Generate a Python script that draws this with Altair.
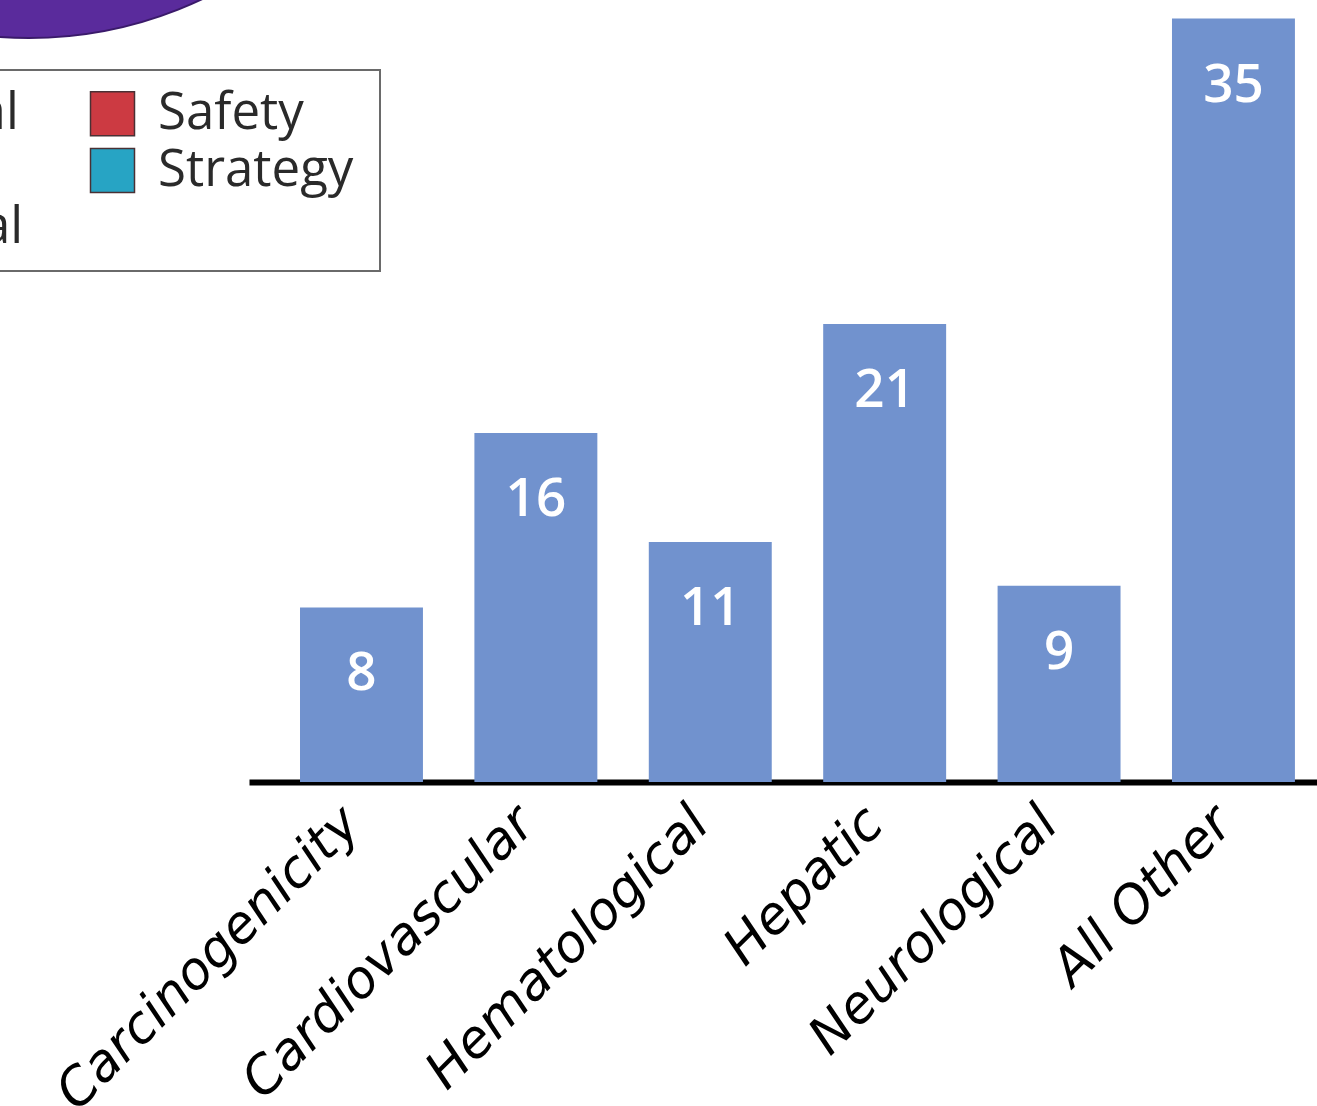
import altair as alt
import pandas as pd

# ---- data ----
categories = ["Carcinogenicity", "Cardiovascular", "Hematological", "Hepatic", "Neurological", "All Other"]
counts = [8, 16, 11, 21, 9, 35]

legend_labels = ["Chemical", "CMC", "Technical", "Safety", "Strategy"]
legend_colors = ["#6a3d9a", "#8c8c8c", "#e08a2a", "#cc3a42", "#27a4c4"]

pie_values = [1]

bars_df = pd.DataFrame({"category": categories, "count": counts})
legend_df = pd.DataFrame({"group": legend_labels})
pie_df = pd.DataFrame({"v": pie_values})

x_enc = alt.X(
    "category:N",
    sort=categories,
    scale=alt.Scale(paddingInner=0.295, paddingOuter=0.2095, align=0.698),
    axis=alt.Axis(
        title=None,
        domainColor="#000000",
        domainWidth=6,
        ticks=False,
        labelAngle=-45,
        labelAlign="right",
        labelBaseline="middle",
        labelFont="DejaVu Sans",
        labelFontStyle="italic",
        labelFontSize=52,
        labelColor="#000000",
        labelPadding=33,
        labelOffset=-10,
        labelLimit=0,
    ),
)
y_enc = alt.Y("count:Q", scale=alt.Scale(domain=[0, 35.85], nice=False), axis=None)

bars = alt.Chart(bars_df).mark_bar(color="#7192CE").encode(x=x_enc, y=y_enc)

values = alt.Chart(bars_df).mark_text(
    color="white", font="Open Sans", fontWeight=600, fontSize=53,
    baseline="middle", align="center", dy=67,
).encode(x=x_enc, y=y_enc, text="count:Q")

pie = alt.Chart(pie_df).mark_arc(
    radius=405, color="#5a2b9c", stroke="#3a1a6a", strokeWidth=2
).encode(
    theta=alt.Theta("v:Q", stack=True),
    x=alt.value(-220),
    y=alt.value(-367),
)

legend_layer = alt.Chart(legend_df).mark_square(opacity=0).encode(
    color=alt.Color(
        "group:N",
        scale=alt.Scale(domain=legend_labels, range=legend_colors),
        legend=alt.Legend(
            title="\u00a0",
            titleOrient="right",
            titleFontSize=8,
            titlePadding=9,
            orient="none",
            legendX=-537,
            legendY=70,
            columns=2,
            direction="vertical",
            symbolType="square",
            symbolSize=1936,
            symbolOpacity=1,
            symbolStrokeColor="#4a3034",
            symbolStrokeWidth=1.5,
            labelFont="Open Sans",
            labelFontSize=51,
            labelColor="#2a2a2a",
            labelOffset=20,
            labelLimit=0,
            rowPadding=5,
            columnPadding=63,
            padding=18,
            strokeColor="#6a6a6a",
            fillColor="#ffffff",
        ),
    ),
)

chart = alt.layer(pie, bars, values, legend_layer).properties(
    width=1068,
    height=782,
    autosize=alt.AutoSizeParams(type="none"),
    padding={"left": 249, "top": 0, "right": 0, "bottom": 324},
    background="white",
).configure_view(stroke=None).configure_legend(strokeWidth=2)

chart.save("out.html", embed_options={"renderer": "svg", "actions": False})
